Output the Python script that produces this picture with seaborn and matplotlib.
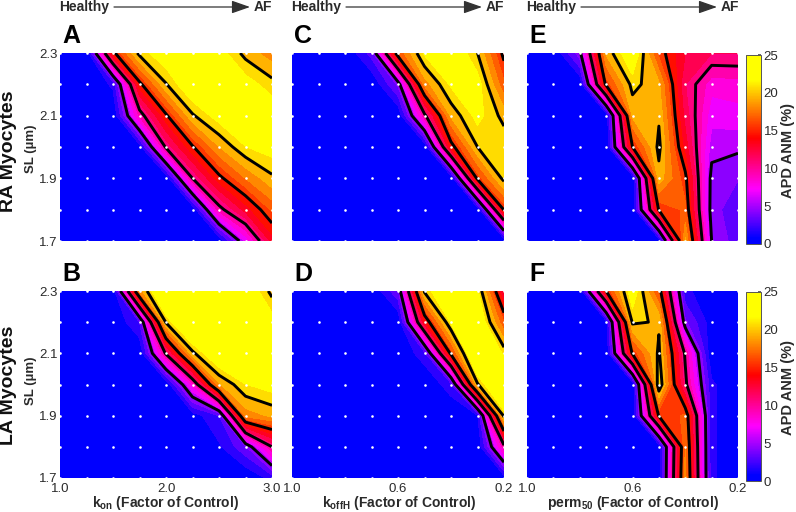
import numpy as np
import pandas as pd
import matplotlib
matplotlib.use("Agg")
import matplotlib.pyplot as plt
from matplotlib.colors import LinearSegmentedColormap, Normalize
from matplotlib.cm import ScalarMappable
import seaborn as sns

sns.set_theme(style="white")
plt.rcParams["font.family"] = ["Liberation Sans", "DejaVu Sans"]
plt.rcParams["mathtext.fontset"] = "custom"
plt.rcParams["mathtext.bf"] = "Liberation Sans:bold"

sl_values = [2.3, 2.2, 2.1, 2.0, 1.9, 1.8, 1.7]
col_index = [0, 1, 2, 3, 4, 5, 6, 7, 8]

panel_a = [
    [0, 0, 14.5, 20.5, 22.5, 23, 22, 19.5, 18],
    [0, 0, 1.5, 14.5, 19.9, 23, 23.5, 22, 20.5],
    [0, 0, 0, 9, 14.7, 19.8, 22, 23, 22.5],
    [0, 0, 0, 0.5, 10.3, 14.8, 18.7, 21.2, 22],
    [0, 0, 0, 0, 0, 10, 14.5, 17.5, 19.7],
    [0, 0, 0, 0, 0, 0, 9.3, 13, 16.5],
    [0, 0, 0, 0, 0, 0, 0, 6.5, 13],
]
panel_b = [
    [0, 0, 0, 18, 25, 25, 25, 23, 19.5],
    [0, 0, 0, 2.5, 20.2, 25, 25, 24, 22],
    [0, 0, 0, 0, 10.3, 19.6, 23.5, 25, 25],
    [0, 0, 0, 0, 0, 8, 18.5, 21.2, 22],
    [0, 0, 0, 0, 0, 0.5, 2.5, 18, 19],
    [0, 0, 0, 0, 0, 0, 1, 3.5, 10],
    [0, 0, 0, 0, 0, 0, 0, 0, 1.7],
]
panel_c = [
    [0, 0, 0, 3, 16.3, 21.5, 23, 20, 14.5],
    [0, 0, 0, 0, 4, 18, 21.5, 22, 16.5],
    [0, 0, 0, 0, 0, 9.5, 19, 21.8, 19.5],
    [0, 0, 0, 0, 0, 0, 14.2, 20, 21],
    [0, 0, 0, 0, 0, 0, 0, 15.5, 20.5],
    [0, 0, 0, 0, 0, 0, 0, 0, 15.2],
    [0, 0, 0, 0, 0, 0, 0, 0, 0],
]
panel_d = [
    [0, 0, 0, 0, 3.5, 20.3, 24, 21.5, 12],
    [0, 0, 0, 0, 0, 13.5, 21.5, 23.3, 16.3],
    [0, 0, 0, 0, 0, 2, 15.5, 25, 20.9],
    [0, 0, 0, 0, 0, 0, 2, 19.8, 25],
    [0, 0, 0, 0, 0, 0, 0, 1, 20.5],
    [0, 0, 0, 0, 0, 0, 0, 0, 9.4],
    [0, 0, 0, 0, 0, 0, 0, 0, 0.5],
]
panel_e = [
    [0, 0, 4.5, 19, 23, 15.8, 12.5, 11.3, 11.3],
    [0, 0, 0, 15.5, 20.5, 19, 11.3, 8, 8.2],
    [0, 0, 0, 0, 19, 19.8, 12, 6.7, 7],
    [0, 0, 0, 0, 15, 20.4, 13.2, 5.6, 5.3],
    [0, 0, 0, 0, 0, 19.5, 15.5, 4.4, 3.8],
    [0, 0, 0, 0, 0, 15.2, 16.5, 4.2, 3],
    [0, 0, 0, 0, 0, 0, 19, 5, 3],
]
panel_f = [
    [0, 0, 0, 15, 22.5, 16, 1.5, 0.5, 0],
    [0, 0, 0, 0.5, 20.3, 19.8, 4, 0.5, 0],
    [0, 0, 0, 0, 15.3, 20.3, 9.7, 0, 0],
    [0, 0, 0, 0, 0, 21.3, 10.5, 1.5, 0],
    [0, 0, 0, 0, 0, 15.2, 16.5, 1.5, 0],
    [0, 0, 0, 0, 0, 0, 17.5, 1.5, 0],
    [0, 0, 0, 0, 0, 0, 18, 1.5, 0],
]

W, H = 796, 512
text_col = "#2a2a2a"

apd_cmap = LinearSegmentedColormap.from_list(
    "apd",
    [(0, "#0000ff"), (0.03, "#0000ff"), (0.29, "#ff00ff"), (0.56, "#ff0000"), (0.87, "#ffff00"), (1, "#ffff00")],
)
norm = Normalize(0, 25)
fill_levels = np.arange(0, 25.01, 1.25)


def add_ax(x0, y0, x1, y1):
    return fig.add_axes([x0 / W, 1 - y1 / H, (x1 - x0) / W, (y1 - y0) / H])


def px_text(x, y, s, **kw):
    kw.setdefault("ha", "left")
    kw.setdefault("va", "center")
    kw.setdefault("fontweight", "bold")
    fig.text(x / W, 1 - y / H, s, **kw)


def draw_panel(box, values, letter, xticks=None, yticks=False):
    ax = add_ax(*box)
    z = np.array(values, dtype=float)
    ax.contourf(col_index, sl_values, z, levels=fill_levels, cmap=apd_cmap, norm=norm)
    ax.contour(col_index, sl_values, z, levels=[5, 10, 15, 20], colors="black", linewidths=2.1)
    pts = pd.DataFrame(
        [(c, s) for c in col_index for s in sl_values], columns=["col", "sl"]
    )
    sns.scatterplot(data=pts, x="col", y="sl", color="white", s=3.5, linewidth=0, ax=ax, zorder=5)
    ax.set_xlim(0, 8)
    ax.set_ylim(1.7, 2.3)
    ax.set_xlabel("")
    ax.set_ylabel("")
    ax.grid(False)
    sns.despine(ax=ax, left=True, bottom=True)
    ax.set_yticks([2.3, 2.1, 1.9, 1.7] if yticks else [])
    if yticks:
        ax.set_yticklabels(["2.3", "2.1", "1.9", "1.7"], fontsize=9.5, color=text_col)
    if xticks:
        ax.set_xticks([0, 4, 8])
        ax.set_xticklabels(xticks, fontsize=9.5, color=text_col)
    else:
        ax.set_xticks([])
    ax.tick_params(axis="y", length=0, pad=1.5)
    ax.tick_params(axis="x", length=0, pad=3.5)
    px_text(box[0] + 2, box[1] - 17, letter, fontsize=18, color="black")
    return ax


def draw_cbar(box):
    cax = add_ax(*box)
    cb = fig.colorbar(ScalarMappable(norm=norm, cmap=apd_cmap), cax=cax)
    cb.set_ticks([0, 5, 10, 15, 20, 25])
    cb.ax.tick_params(labelsize=9.5, length=2, direction="in", pad=2, labelcolor=text_col, color="#555555")
    cb.outline.set_edgecolor("#555555")
    cb.outline.set_linewidth(0.7)
    px_text(box[2] + 27, (box[1] + box[3]) / 2 + 1, "APD ANM (%)", rotation=90, ha="center",
            fontsize=10.5, color=text_col)


def draw_header(x):
    px_text(x, 7, "Healthy", fontsize=10, color=text_col)
    px_text(x + 195, 7, "AF", fontsize=10, color=text_col)
    fig.add_artist(
        matplotlib.patches.FancyArrowPatch(
            ((x + 55) / W, 1 - 7 / H), ((x + 191) / W, 1 - 7 / H),
            transform=fig.transFigure, arrowstyle="-|>,head_length=0.8,head_width=0.28",
            mutation_scale=14, color="#333333", lw=0.9, shrinkA=0, shrinkB=0,
        )
    )


fig = plt.figure(figsize=(W / 100, H / 100), dpi=100, facecolor="white")

xl = ["1.0", "2.0", "3.0"]
xr = ["1.0", "0.6", "0.2"]
draw_panel((60, 53, 272, 241), panel_a, "A", yticks=True)
draw_panel((60, 291, 272, 478), panel_b, "B", xticks=xl, yticks=True)
draw_panel((292, 53, 504, 241), panel_c, "C")
draw_panel((292, 291, 504, 478), panel_d, "D", xticks=xr)
draw_panel((527, 53, 738, 241), panel_e, "E")
draw_panel((527, 291, 738, 478), panel_f, "F", xticks=xr)

draw_cbar((746, 55, 761, 244))
draw_cbar((746, 292, 761, 481))

for x in [59, 291, 526]:
    draw_header(x)

px_text(9, 151, "RA Myocytes", rotation=90, ha="center", fontsize=14, color="#111111")
px_text(9, 385, "LA Myocytes", rotation=90, ha="center", fontsize=14, color="#111111")
px_text(31, 149, "SL (µm)", rotation=90, ha="center", fontsize=9.5, color=text_col)
px_text(31, 381, "SL (µm)", rotation=90, ha="center", fontsize=9.5, color=text_col)

px_text(166, 507.5, r"$\mathbf{k_{on}}$ (Factor of Control)", ha="center", fontsize=10, color=text_col, va="baseline")
px_text(399, 507.5, r"$\mathbf{k_{offH}}$ (Factor of Control)", ha="center", fontsize=10, color=text_col, va="baseline")
px_text(633, 507.5, r"$\mathbf{perm_{50}}$ (Factor of Control)", ha="center", fontsize=10, color=text_col, va="baseline")

fig.savefig("out.png", dpi=100)
